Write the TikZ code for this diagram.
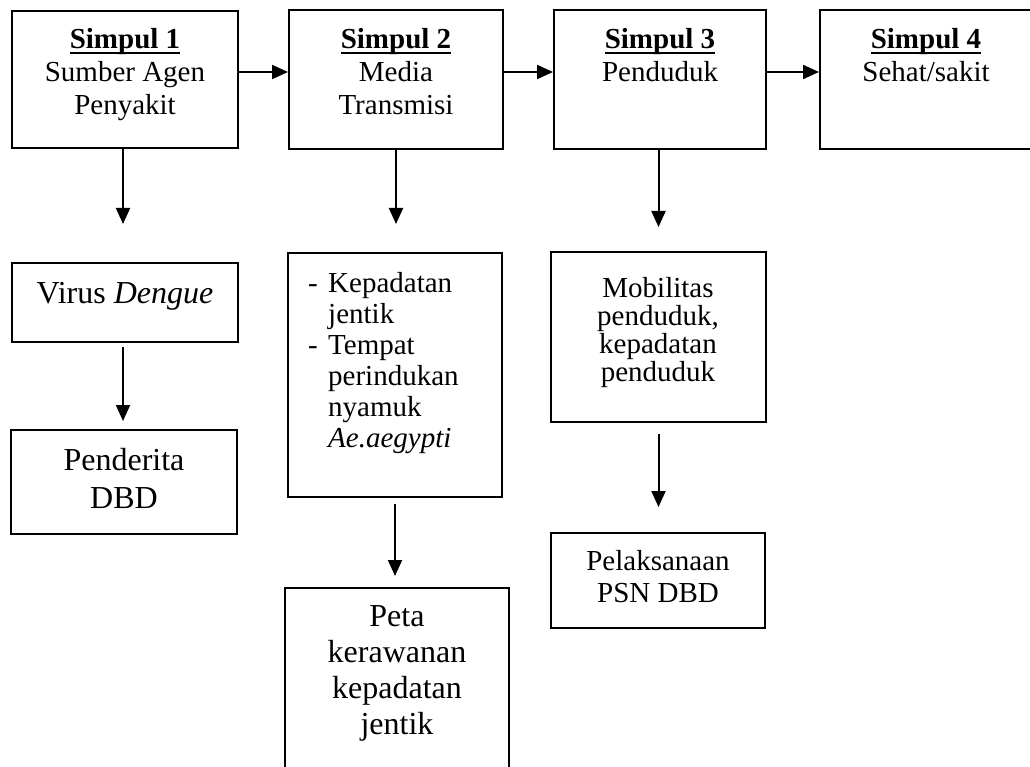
\documentclass[tikz,border=0pt]{standalone}
\usepackage{fontspec}
\setmainfont{Liberation Serif}
\usetikzlibrary{arrows.meta}
\newcommand\thickul[1]{\setbox0\hbox{#1}\rlap{\rule[-5pt]{\wd0}{1.8pt}}\box0}
\begin{document}
\begin{tikzpicture}[x=1pt,y=-1pt,
  box/.style={draw, line width=2pt, inner sep=0pt},
  txt/.style={inner sep=0pt, align=center, anchor=base, font=\fontsize{29}{33}\selectfont},
  big/.style={inner sep=0pt, align=center, anchor=base, font=\fontsize{32}{37}\selectfont},
  arr/.style={line width=2pt, -{Triangle[length=16pt,width=14pt]}}]
\useasboundingbox (0,0) rectangle (1030,767);
\clip (0,0) rectangle (1030,767);
% boxes
\node[box, minimum width=226pt, minimum height=137pt] (s1) at (125,79.5) {};
\node[box, minimum width=214pt, minimum height=139pt] (s2) at (396,79.5) {};
\node[box, minimum width=212pt, minimum height=139pt] (s3) at (660,79.5) {};
\node[box, minimum width=220pt, minimum height=139pt] (s4) at (930,79.5) {};
\node[box, minimum width=226pt, minimum height=79pt] (virus) at (125,302.5) {};
\node[box, minimum width=226pt, minimum height=104pt] (pend) at (124,482) {};
\node[box, minimum width=214pt, minimum height=244pt] (kep) at (395,375) {};
\node[box, minimum width=224pt, minimum height=202pt] (peta) at (397,689) {};
\node[box, minimum width=215pt, minimum height=170pt] (mob) at (658.5,337) {};
\node[box, minimum width=214pt, minimum height=95pt] (pel) at (658,580.5) {};
% texts (anchor base = baseline of the last line)
\node[txt] (t1) at (125,115) {\thickul{\textbf{Simpul 1}}\\Sumber Agen\\Penyakit};
\node[txt] (t2) at (396,115) {\thickul{\textbf{Simpul 2}}\\Media\\Transmisi};
\node[txt] (t3) at (660,82) {\thickul{\textbf{Simpul 3}}\\Penduduk};
\node[txt] (t4) at (926,82) {\thickul{\textbf{Simpul 4}}\\Sehat/sakit};
\node[big] (tv) at (125,303) {Virus \textit{Dengue}};
\node[big, font=\fontsize{32}{38}\selectfont] (tp) at (124,508) {Penderita\\DBD};
\node[inner sep=0pt, align=left, anchor=base west, font=\fontsize{29}{31}\selectfont] (tk) at (308,447)
  {\makebox[20pt][l]{-}Kepadatan\\\hspace*{20pt}jentik\\\makebox[20pt][l]{-}Tempat\\\hspace*{20pt}perindukan\\\hspace*{20pt}nyamuk\\\hspace*{20pt}\textit{Ae.aegypti}};
\node[txt, font=\fontsize{29}{28}\selectfont] (tm) at (658,381) {Mobilitas\\penduduk,\\kepadatan\\penduduk};
\node[txt, font=\fontsize{29}{32}\selectfont] (tl) at (658,602) {Pelaksanaan\\PSN DBD};
\node[big, font=\fontsize{32}{36}\selectfont] (tpe) at (397,734) {Peta\\kerawanan\\kepadatan\\jentik};
% connectors
\draw[arr] ([yshift=7.5pt]s1.east) -- ([yshift=7.5pt]s2.west);
\draw[arr] ([yshift=7.5pt]s2.east) -- ([yshift=7.5pt]s3.west);
\draw[arr] ([yshift=7.5pt]s3.east) -- ([yshift=7.5pt]s4.west);
\draw[arr, shorten >=38pt] ([xshift=-2pt]s1.south) -- ([xshift=-2pt]virus.north);
\draw[arr, shorten >=28pt] (s2.south) -- (s2.south |- kep.north);
\draw[arr, shorten >=24pt] (mob.north |- s3.south) -- (mob.north);
\draw[arr, shorten <=4pt, shorten >=8pt] ([xshift=-2pt]virus.south) -- ([xshift=-2pt]virus.south |- pend.north);
\draw[arr, shorten <=6pt, shorten >=11pt] (kep.south) -- (kep.south |- peta.north);
\draw[arr, shorten <=11pt, shorten >=25pt] (mob.south) -- (mob.south |- pel.north);
\end{tikzpicture}
\end{document}
